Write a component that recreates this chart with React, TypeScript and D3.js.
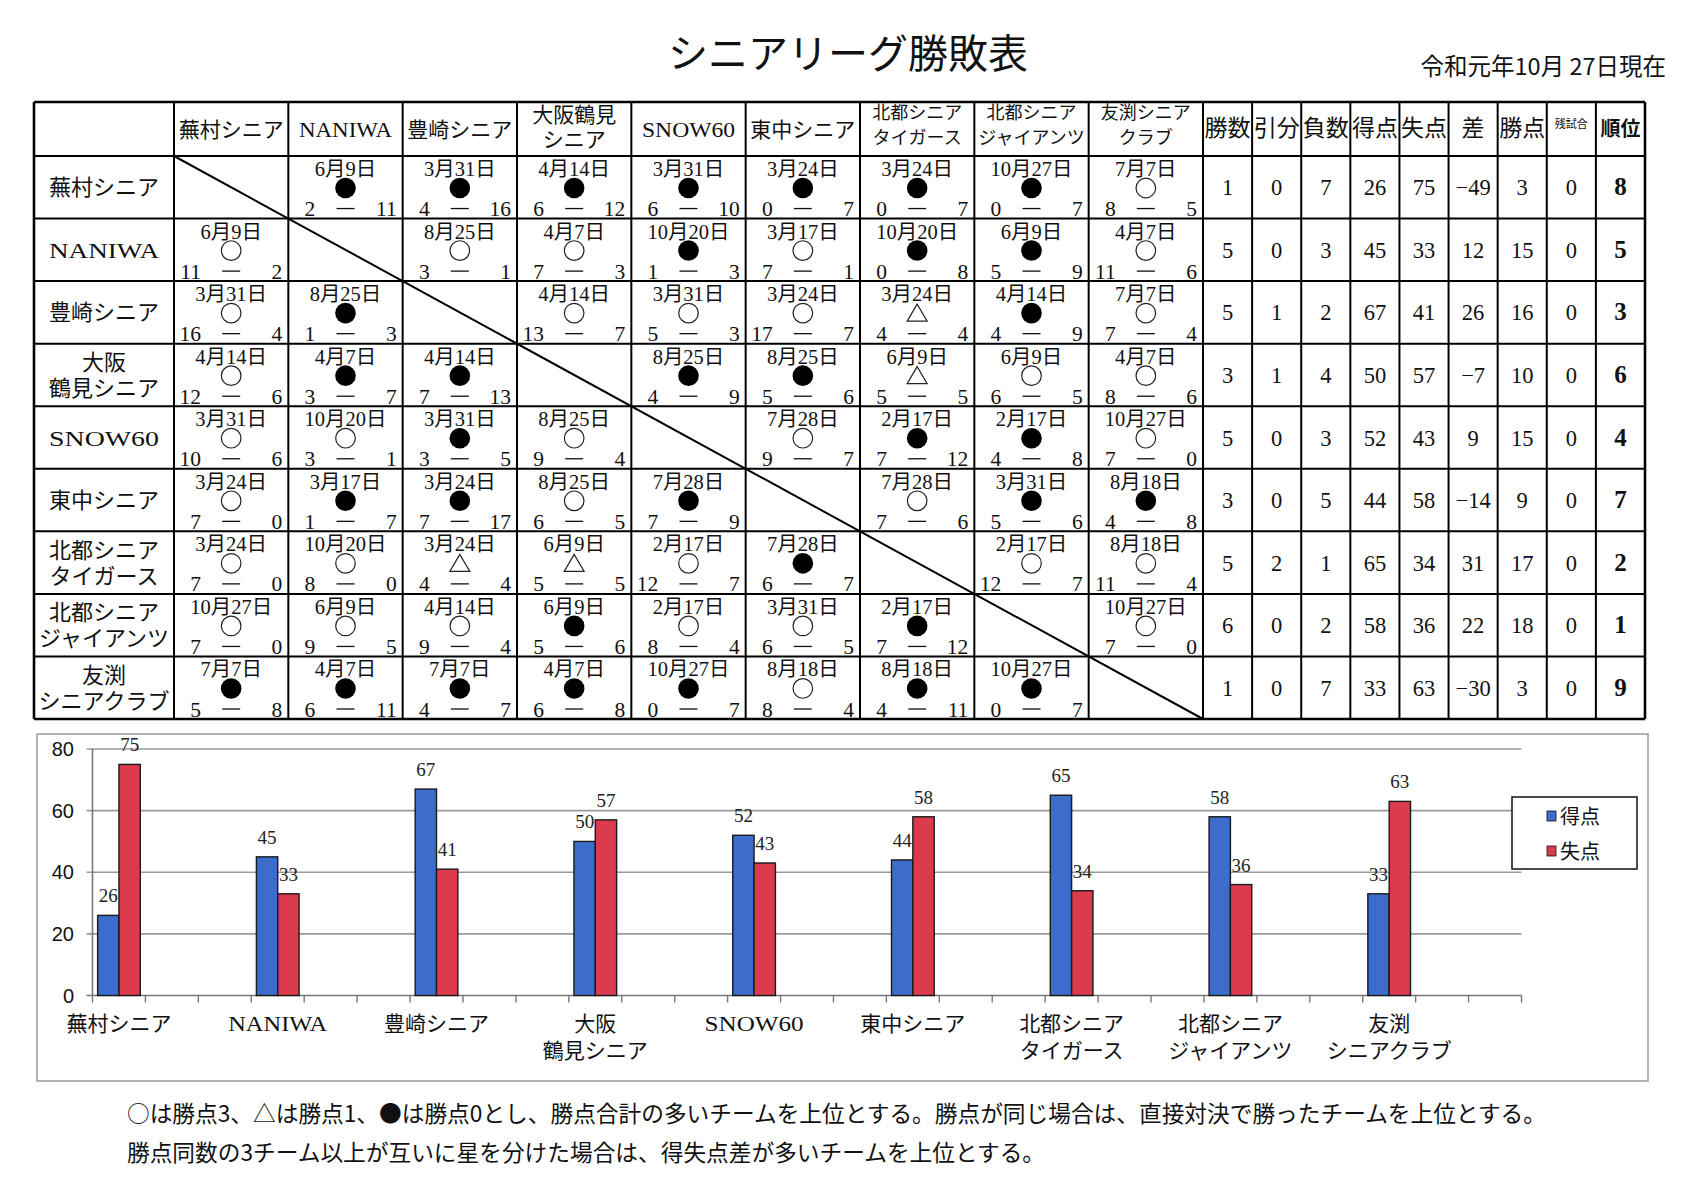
import React from 'react';
import * as d3 from 'd3';

// チーム・表データ
const teams = ['蕪村シニア', 'NANIWA', '豊崎シニア', '大阪鶴見シニア', 'SNOW60', '東中シニア', '北都シニアタイガース', '北都シニアジャイアンツ', '友渕シニアクラブ'];
const rowLabelLines = [['蕪村シニア'], ['NANIWA'], ['豊崎シニア'], ['大阪', '鶴見シニア'], ['SNOW60'], ['東中シニア'], ['北都シニア', 'タイガース'], ['北都シニア', 'ジャイアンツ'], ['友渕', 'シニアクラブ']];
const headerLines = [['蕪村シニア'], ['NANIWA'], ['豊崎シニア'], ['大阪鶴見', 'シニア'], ['SNOW60'], ['東中シニア'], ['北都シニア', 'タイガース'], ['北都シニア', 'ジャイアンツ'], ['友渕シニア', 'クラブ']];
const chartLabelLines = [['蕪村シニア'], ['NANIWA'], ['豊崎シニア'], ['大阪', '鶴見シニア'], ['SNOW60'], ['東中シニア'], ['北都シニア', 'タイガース'], ['北都シニア', 'ジャイアンツ'], ['友渕', 'シニアクラブ']];

const matchDates = [
  [null, '6月9日', '3月31日', '4月14日', '3月31日', '3月24日', '3月24日', '10月27日', '7月7日'],
  ['6月9日', null, '8月25日', '4月7日', '10月20日', '3月17日', '10月20日', '6月9日', '4月7日'],
  ['3月31日', '8月25日', null, '4月14日', '3月31日', '3月24日', '3月24日', '4月14日', '7月7日'],
  ['4月14日', '4月7日', '4月14日', null, '8月25日', '8月25日', '6月9日', '6月9日', '4月7日'],
  ['3月31日', '10月20日', '3月31日', '8月25日', null, '7月28日', '2月17日', '2月17日', '10月27日'],
  ['3月24日', '3月17日', '3月24日', '8月25日', '7月28日', null, '7月28日', '3月31日', '8月18日'],
  ['3月24日', '10月20日', '3月24日', '6月9日', '2月17日', '7月28日', null, '2月17日', '8月18日'],
  ['10月27日', '6月9日', '4月14日', '6月9日', '2月17日', '3月31日', '2月17日', null, '10月27日'],
  ['7月7日', '4月7日', '7月7日', '4月7日', '10月27日', '8月18日', '8月18日', '10月27日', null],
];
const matchMarks = [
  ['', '●', '●', '●', '●', '●', '●', '●', '○'],
  ['○', '', '○', '○', '●', '○', '●', '●', '○'],
  ['○', '●', '', '○', '○', '○', '△', '●', '○'],
  ['○', '●', '●', '', '●', '●', '△', '○', '○'],
  ['○', '○', '●', '○', '', '○', '●', '●', '○'],
  ['○', '●', '●', '○', '●', '', '○', '●', '●'],
  ['○', '○', '△', '△', '○', '●', '', '○', '○'],
  ['○', '○', '○', '●', '○', '○', '●', '', '○'],
  ['●', '●', '●', '●', '●', '○', '●', '●', ''],
];
const scoresFor = [
  [null, 2, 4, 6, 6, 0, 0, 0, 8],
  [11, null, 3, 7, 1, 7, 0, 5, 11],
  [16, 1, null, 13, 5, 17, 4, 4, 7],
  [12, 3, 7, null, 4, 5, 5, 6, 8],
  [10, 3, 3, 9, null, 9, 7, 4, 7],
  [7, 1, 7, 6, 7, null, 7, 5, 4],
  [7, 8, 4, 5, 12, 6, null, 12, 11],
  [7, 9, 9, 5, 8, 6, 7, null, 7],
  [5, 6, 4, 6, 0, 8, 4, 0, null],
];
const scoresAgainst = [
  [null, 11, 16, 12, 10, 7, 7, 7, 5],
  [2, null, 1, 3, 3, 1, 8, 9, 6],
  [4, 3, null, 7, 3, 7, 4, 9, 4],
  [6, 7, 13, null, 9, 6, 5, 5, 6],
  [6, 1, 5, 4, null, 7, 12, 8, 0],
  [0, 7, 17, 5, 9, null, 6, 6, 8],
  [0, 0, 4, 5, 7, 7, null, 7, 4],
  [0, 5, 4, 6, 4, 5, 12, null, 0],
  [8, 11, 7, 8, 7, 4, 11, 7, null],
];

const statHeaders = ['勝数', '引分', '負数', '得点', '失点', '差', '勝点', '残試合', '順位'];
const wins = [1, 5, 5, 3, 5, 3, 5, 6, 1];
const draws = [0, 0, 1, 1, 0, 0, 2, 0, 0];
const losses = [7, 3, 2, 4, 3, 5, 1, 2, 7];
const runsFor = [26, 45, 67, 50, 52, 44, 65, 58, 33];
const runsAgainst = [75, 33, 41, 57, 43, 58, 34, 36, 63];
const runDiff = [-49, 12, 26, -7, 9, -14, 31, 22, -30];
const points = [3, 15, 16, 10, 15, 9, 17, 18, 3];
const remaining = [0, 0, 0, 0, 0, 0, 0, 0, 0];
const ranks = [8, 5, 3, 6, 4, 7, 2, 1, 9];

const seriesNames = ['得点', '失点'];
const yTicks = [0, 20, 40, 60, 80];

const notes = [
  '○は勝点3、△は勝点1、●は勝点0とし、勝点合計の多いチームを上位とする。勝点が同じ場合は、直接対決で勝ったチームを上位とする。',
  '勝点同数の3チーム以上が互いに星を分けた場合は、得失点差が多いチームを上位とする。',
];

const SERIF = "'Liberation Serif', 'DejaVu Serif', 'Noto Sans CJK JP', serif";
const GOTHIC = "'Noto Sans CJK JP', sans-serif";
const BLUE = '#3c6dcc';
const RED = '#dc3a4d';

// 英字ラベルは原本の明朝体に合わせて横幅を伸ばす
const isLatin = (s: string) => /^[A-Za-z0-9]+$/.test(s);

const App = () => {
  const W = 1687;
  const H = 1200;

  // table geometry
  const tLeft = 34, labelRight = 174, teamRight = 1203, tRight = 1645;
  const tTop = 102, headBottom = 156, tBottom = 719;
  const idx = d3.range(teams.length);
  const colX = d3.scaleBand<number>().domain(idx).range([labelRight, teamRight]);
  const rowY = d3.scaleBand<number>().domain(idx).range([headBottom, tBottom]);
  const statX = d3.scaleBand<number>().domain(d3.range(statHeaders.length)).range([teamRight, tRight]);
  const cw = colX.bandwidth();
  const rh = rowY.bandwidth();
  const sw = statX.bandwidth();

  const statCols = [wins, draws, losses, runsFor, runsAgainst, runDiff, points, remaining, ranks];
  const fmt = (v: number) => (v < 0 ? '−' + Math.abs(v) : String(v));

  // chart geometry
  const cLeft = 92.5, cRight = 1521.5;
  const x = d3.scaleBand<string>().domain(teams).range([cLeft, cRight]).padding(0);
  const slot = x.bandwidth() / 3;
  const xs = d3.scaleBand<string>().domain(seriesNames).range([0, slot]).paddingInner(0).paddingOuter(0.24);
  const y = d3.scaleLinear().domain([0, 80]).range([995.5, 749]);
  const slotTicks = d3.range(teams.length * 3 + 1).map((k) => cLeft + k * slot);

  const hLines = [tTop, headBottom, ...idx.map((i) => (rowY(i) as number) + rh)];
  const vLines = [tLeft, labelRight, ...idx.map((i) => (colX(i) as number) + cw), ...statHeaders.map((_, k) => (statX(k) as number) + sw)];

  const label = (s: string, px: number, py: number, fs: number, width: number, key?: string) =>
    isLatin(s) ? (
      <text key={key} x={px} y={py} textAnchor="middle" fontFamily={SERIF} fontSize={fs} fill="#111"
        textLength={width} lengthAdjust="spacingAndGlyphs">{s}</text>
    ) : (
      <text key={key} x={px} y={py} textAnchor="middle" fontFamily={SERIF} fontSize={fs} fill="#111">{s}</text>
    );

  return (
    <svg width={W} height={H} style={{ position: 'absolute', left: 0, top: 0, background: '#fff' }}>
      <rect x={0} y={0} width={W} height={H} fill="#fff" />

      {/* title */}
      <text x={848} y={68} textAnchor="middle" fontFamily={GOTHIC} fontSize={40} fill="#111">シニアリーグ勝敗表</text>
      <text x={1666} y={75} textAnchor="end" fontFamily={GOTHIC} fontSize={23.5} fill="#111">令和元年10月 27日現在</text>

      {/* table grid */}
      {hLines.map((yy, i) => (
        <line key={'h' + i} x1={tLeft} x2={tRight} y1={yy} y2={yy} stroke="#000" strokeWidth={i === 0 || i === hLines.length - 1 ? 2.6 : 2} />
      ))}
      {vLines.map((xx, i) => (
        <line key={'v' + i} x1={xx} x2={xx} y1={tTop} y2={tBottom} stroke="#000" strokeWidth={i === 0 || i === vLines.length - 1 ? 2.6 : 2} />
      ))}
      <line x1={labelRight} y1={headBottom} x2={teamRight} y2={tBottom} stroke="#000" strokeWidth={2} />

      {/* column headers */}
      {headerLines.map((lines, j) => {
        const cx = (colX(j) as number) + cw / 2;
        const small = lines.length > 1 && lines[0].length >= 5;
        const fs = small ? 18 : 21;
        return lines.length === 1 ? (
          label(lines[0], cx, 137, 21, 93, 'ch' + j)
        ) : (
          <g key={'ch' + j}>
            <text x={cx} y={small ? 119 : 122} textAnchor="middle" fontFamily={SERIF} fontSize={fs} fill="#111">{lines[0]}</text>
            <text x={cx} y={small ? 144 : 147} textAnchor="middle" fontFamily={SERIF} fontSize={fs} fill="#111">{lines[1]}</text>
          </g>
        );
      })}
      {statHeaders.map((s, k) => {
        const cx = (statX(k) as number) + sw / 2;
        const fs = s === '残試合' ? 11 : s === '順位' ? 20 : 23;
        return (
          <text key={'sh' + k} x={cx} y={s === '残試合' ? 128 : 136} textAnchor="middle" fontFamily={GOTHIC}
            fontWeight={s === '順位' ? 700 : 400} fontSize={fs} fill="#111">{s}</text>
        );
      })}

      {/* row labels */}
      {rowLabelLines.map((lines, i) => {
        const cy = (rowY(i) as number) + rh / 2;
        const cx = (tLeft + labelRight) / 2;
        return lines.length === 1 ? (
          label(lines[0], cx, cy + 8, 22, 110, 'rl' + i)
        ) : (
          <g key={'rl' + i}>
            <text x={cx} y={cy - 5} textAnchor="middle" fontFamily={SERIF} fontSize={22} fill="#111">{lines[0]}</text>
            <text x={cx} y={cy + 21} textAnchor="middle" fontFamily={SERIF} fontSize={22} fill="#111">{lines[1]}</text>
          </g>
        );
      })}

      {/* match cells */}
      {idx.map((i) =>
        idx.map((j) => {
          if (i === j) return null;
          const left = colX(j) as number;
          const top = rowY(i) as number;
          const cx = left + cw / 2;
          const my = top + 32;
          const mark = matchMarks[i][j];
          return (
            <g key={'m' + i + '-' + j}>
              <text x={cx} y={top + 20} textAnchor="middle" fontFamily={SERIF} fontSize={20.5} fill="#111">{matchDates[i][j]}</text>
              {mark === '●' && <circle cx={cx} cy={my} r={10.3} fill="#000" />}
              {mark === '○' && <circle cx={cx} cy={my} r={9.8} fill="none" stroke="#222" strokeWidth={1.2} />}
              {mark === '△' && (
                <polygon points={`${cx},${my - 9} ${cx - 10},${my + 8} ${cx + 10},${my + 8}`} fill="none" stroke="#222" strokeWidth={1.2} />
              )}
              <text x={left + 27} y={top + rh - 2.5} textAnchor="end" fontFamily={SERIF} fontSize={21.5} fill="#111">{scoresFor[i][j]}</text>
              <line x1={cx - 9} x2={cx + 9} y1={top + rh - 10} y2={top + rh - 10} stroke="#111" strokeWidth={1.3} />
              <text x={left + cw - 6} y={top + rh - 2.5} textAnchor="end" fontFamily={SERIF} fontSize={21.5} fill="#111">{scoresAgainst[i][j]}</text>
            </g>
          );
        })
      )}

      {/* stats */}
      {statCols.map((col, k) =>
        col.map((v, i) => {
          const cx = (statX(k) as number) + sw / 2;
          const cy = (rowY(i) as number) + rh / 2;
          const isRank = k === statCols.length - 1;
          return (
            <text key={'s' + k + '-' + i} x={cx} y={cy + 8} textAnchor="middle" fontFamily={SERIF}
              fontWeight={isRank ? 700 : 400} fontSize={isRank ? 25 : 22.5} fill="#111">{fmt(v)}</text>
          );
        })
      )}

      {/* chart frame */}
      <rect x={37} y={734} width={1611} height={347} fill="none" stroke="#9a9a9a" strokeWidth={1.5} />

      {/* gridlines & axes */}
      {yTicks.map((t) => (
        <g key={'y' + t}>
          <line x1={cLeft - 6} x2={cRight} y1={y(t)} y2={y(t)} stroke={t === 0 ? '#777' : '#9a9a9a'} strokeWidth={1.6} />
          <text x={74} y={y(t) + 7} textAnchor="end" fontFamily="'Liberation Sans Narrow', 'Liberation Sans', sans-serif" fontSize={20} fill="#111">{t}</text>
        </g>
      ))}
      <line x1={cLeft} x2={cLeft} y1={y(80)} y2={y(0)} stroke="#777" strokeWidth={1.6} />
      {slotTicks.map((tx, k) => (
        <line key={'t' + k} x1={tx} x2={tx} y1={y(0)} y2={y(0) + 7} stroke="#777" strokeWidth={1.4} />
      ))}

      {/* bars */}
      {teams.map((team, i) => {
        const base = x(team) as number;
        const vals = [runsFor[i], runsAgainst[i]];
        return (
          <g key={'b' + i}>
            {seriesNames.map((s, k) => {
              const bx = base + (xs(s) as number);
              const bw = xs.bandwidth();
              return (
                <g key={s}>
                  <rect x={bx} y={y(vals[k])} width={bw} height={y(0) - y(vals[k])} fill={k === 0 ? BLUE : RED} stroke="#1a1a1a" strokeWidth={1.4} />
                  <text x={bx + bw / 2} y={y(vals[k]) - 13} textAnchor="middle" fontFamily={SERIF} fontSize={19} fill="#222">{vals[k]}</text>
                </g>
              );
            })}
          </g>
        );
      })}

      {/* category labels */}
      {chartLabelLines.map((lines, i) => {
        const cx = (x(teams[i]) as number) + slot / 2;
        return (
          <g key={'cl' + i}>
            {lines.map((ln, k) => label(ln, cx, 1031 + k * 27, 21, 99, 'cl' + i + '-' + k))}
          </g>
        );
      })}

      {/* legend */}
      <rect x={1512} y={797} width={125} height={72} fill="#fff" stroke="#111" strokeWidth={1.5} />
      {seriesNames.map((s, k) => (
        <g key={'lg' + s}>
          <rect x={1547} y={811 + k * 35} width={9} height={10} fill={k === 0 ? BLUE : RED} stroke="#111" strokeWidth={0.8} />
          <text x={1560} y={824 + k * 35} fontFamily={SERIF} fontSize={20} fill="#111">{s}</text>
        </g>
      ))}

      {/* notes */}
      {notes.map((n, k) => (
        <text key={'n' + k} x={127} y={1122 + k * 39} fontFamily={GOTHIC} fontSize={22.7} fill="#111">{n}</text>
      ))}
    </svg>
  );
};

export default App;
